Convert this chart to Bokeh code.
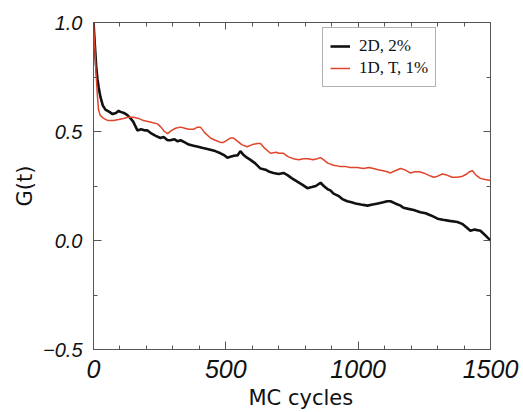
from bokeh.plotting import figure
from bokeh.models import (Range1d, LinearAxis, FixedTicker, Legend, LegendItem,
                          CustomJSTickFormatter, Title)
from bokeh.embed import file_html
from bokeh.resources import INLINE

# ---- data ----
x_2d = [0, 5, 10, 15, 20, 26, 35, 45, 60, 72, 85, 95, 102, 115, 128, 140, 150, 160,
        166, 180, 195, 204, 220, 235, 253, 265, 280, 291, 305, 318, 329, 345, 360,
        378, 395, 410, 430, 445, 460, 480, 495, 506, 520, 535, 544, 555, 565, 580,
        593, 610, 631, 650, 665, 680, 700, 718, 733, 750, 770, 790, 808, 825, 840,
        858, 870, 885, 895, 907, 925, 940, 959, 975, 990, 1010, 1035, 1055, 1075,
        1095, 1110, 1122, 1140, 1160, 1171, 1190, 1210, 1235, 1255, 1275, 1300,
        1320, 1345, 1375, 1395, 1410, 1424, 1440, 1462, 1475, 1492, 1500]
g_2d = [1.00, 0.90, 0.80, 0.74, 0.70, 0.66, 0.62, 0.60, 0.59, 0.58, 0.585, 0.595,
        0.59, 0.585, 0.575, 0.56, 0.545, 0.52, 0.505, 0.51, 0.505, 0.505, 0.49,
        0.48, 0.47, 0.475, 0.46, 0.46, 0.465, 0.455, 0.46, 0.45, 0.44, 0.435, 0.43,
        0.425, 0.42, 0.415, 0.41, 0.40, 0.39, 0.38, 0.385, 0.39, 0.39, 0.41, 0.395,
        0.38, 0.37, 0.355, 0.33, 0.325, 0.315, 0.31, 0.305, 0.31, 0.30, 0.285,
        0.27, 0.255, 0.24, 0.245, 0.25, 0.265, 0.25, 0.235, 0.23, 0.215, 0.205,
        0.19, 0.18, 0.175, 0.17, 0.165, 0.16, 0.165, 0.17, 0.175, 0.18, 0.18,
        0.17, 0.16, 0.15, 0.145, 0.14, 0.13, 0.125, 0.115, 0.10, 0.095, 0.09,
        0.085, 0.075, 0.06, 0.045, 0.05, 0.045, 0.03, 0.01, 0.0]

x_1d = [0, 5, 10, 15, 19, 25, 38, 55, 76, 95, 113, 130, 151, 170, 189, 210, 225,
        242, 255, 268, 280, 295, 310, 329, 345, 360, 378, 393, 404, 420, 442, 460,
        480, 491, 505, 517, 529, 545, 560, 580, 600, 620, 631, 645, 669, 690, 700,
        718, 735, 744, 756, 775, 793, 810, 830, 845, 858, 870, 885, 907, 930, 950,
        970, 997, 1020, 1040, 1058, 1075, 1095, 1110, 1122, 1140, 1160, 1175, 1197,
        1215, 1230, 1247, 1265, 1285, 1300, 1318, 1335, 1355, 1375, 1395, 1410,
        1420, 1432, 1445, 1462, 1480, 1500]
g_1d = [1.00, 0.88, 0.76, 0.66, 0.60, 0.575, 0.56, 0.55, 0.55, 0.555, 0.56, 0.565,
        0.565, 0.56, 0.55, 0.545, 0.54, 0.535, 0.52, 0.50, 0.49, 0.505, 0.515,
        0.52, 0.515, 0.51, 0.51, 0.52, 0.52, 0.495, 0.47, 0.46, 0.45, 0.45, 0.46,
        0.47, 0.47, 0.455, 0.44, 0.43, 0.44, 0.445, 0.445, 0.425, 0.40, 0.405,
        0.40, 0.40, 0.385, 0.38, 0.375, 0.37, 0.375, 0.375, 0.37, 0.375, 0.38,
        0.37, 0.355, 0.345, 0.34, 0.34, 0.335, 0.335, 0.33, 0.335, 0.33, 0.325,
        0.32, 0.315, 0.31, 0.32, 0.33, 0.325, 0.31, 0.315, 0.315, 0.31, 0.30,
        0.29, 0.295, 0.305, 0.30, 0.29, 0.29, 0.295, 0.305, 0.315, 0.32, 0.30,
        0.285, 0.28, 0.275]

series_labels = ["2D, 2%", "1D, T, 1%"]
x_title = "MC cycles"
y_title = "G(t)"
x_ticks = [0, 500, 1000, 1500]
x_minor = [100, 200, 300, 400, 600, 700, 800, 900, 1100, 1200, 1300, 1400]
y_ticks = [-0.5, 0.0, 0.5, 1.0]
y_minor = [-0.25, 0.25, 0.75]
y_tick_labels = {-0.5: "\u22120.5", 0.0: "0.0", 0.5: "0.5", 1.0: "1.0"}
x_tick_labels = {0: "0", 500: "500", 1000: "1000", 1500: "1500"}

AX = "#555555"

p = figure(width=523, height=412, output_backend="svg", toolbar_location=None,
           x_range=Range1d(0, 1500), y_range=Range1d(-0.5, 1.0),
           min_border_left=93, min_border_right=33, min_border_top=22,
           min_border_bottom=63)
p.xgrid.visible = False
p.ygrid.visible = False
p.outline_line_color = AX
p.outline_line_width = 1
p.background_fill_color = "white"
p.border_fill_color = "white"

xa = p.xaxis[0]
xa.ticker = FixedTicker(ticks=x_ticks, minor_ticks=x_minor)
xa.major_label_overrides = x_tick_labels
ya = p.yaxis[0]
ya.ticker = FixedTicker(ticks=y_ticks, minor_ticks=y_minor)
ya.major_label_overrides = y_tick_labels
ya.axis_label = y_title

for ax, fs in ((xa, "25px"), (ya, "20px")):
    ax.axis_line_color = AX
    ax.major_tick_line_color = AX
    ax.minor_tick_line_color = AX
    ax.major_tick_in = 8
    ax.major_tick_out = 0
    ax.minor_tick_in = 4
    ax.minor_tick_out = 0
    ax.major_label_text_font = "Liberation Sans"
    ax.major_label_text_font_style = "italic"
    ax.major_label_text_font_size = fs
    ax.major_label_text_color = "#111111"
    ax.axis_label_text_font = "DejaVu Sans"
    ax.axis_label_text_font_style = "normal"
    ax.axis_label_text_font_size = "21px"
    ax.axis_label_text_color = "#111111"
xa.major_label_standoff = 10
ya.major_label_standoff = 11
ya.axis_label_standoff = 3

# x-axis title as a Title in the panel below the axis
p.add_layout(Title(text=x_title, align="left", offset=155, standoff=6,
                   text_font="DejaVu Sans", text_font_size="21px",
                   text_font_style="normal", text_color="#111111"), "below")

# mirrored tick-only axes
blank = CustomJSTickFormatter(code="return '';")
top = LinearAxis(ticker=FixedTicker(ticks=x_ticks, minor_ticks=x_minor), formatter=blank)
right = LinearAxis(ticker=FixedTicker(ticks=y_ticks, minor_ticks=y_minor), formatter=blank)
for ax in (top, right):
    ax.axis_line_color = None
    ax.major_tick_line_color = AX
    ax.minor_tick_line_color = AX
    ax.major_tick_in = 7
    ax.major_tick_out = 0
    ax.minor_tick_in = 4
    ax.minor_tick_out = 0
    ax.major_label_standoff = 0
p.add_layout(top, "above")
p.add_layout(right, "right")

r2 = p.line(x_2d, g_2d, line_color="#111111", line_width=2.6)
r1 = p.line(x_1d, g_1d, line_color="#e0442a", line_width=1.5)

leg = Legend(items=[LegendItem(label=series_labels[0], renderers=[r2]),
                    LegendItem(label=series_labels[1], renderers=[r1])],
             location=(229, 262))
leg.label_text_font = "Liberation Serif"
leg.label_text_font_size = "17px"
leg.label_text_color = "#111111"
leg.glyph_width = 20
leg.glyph_height = 22
leg.label_height = 22
leg.label_standoff = 9
leg.spacing = 0
leg.padding = 7
leg.margin = 0
leg.border_line_color = "#666666"
leg.border_line_width = 1
leg.background_fill_alpha = 1
p.add_layout(leg, "center")

open("out.html", "w").write(file_html(p, INLINE))
